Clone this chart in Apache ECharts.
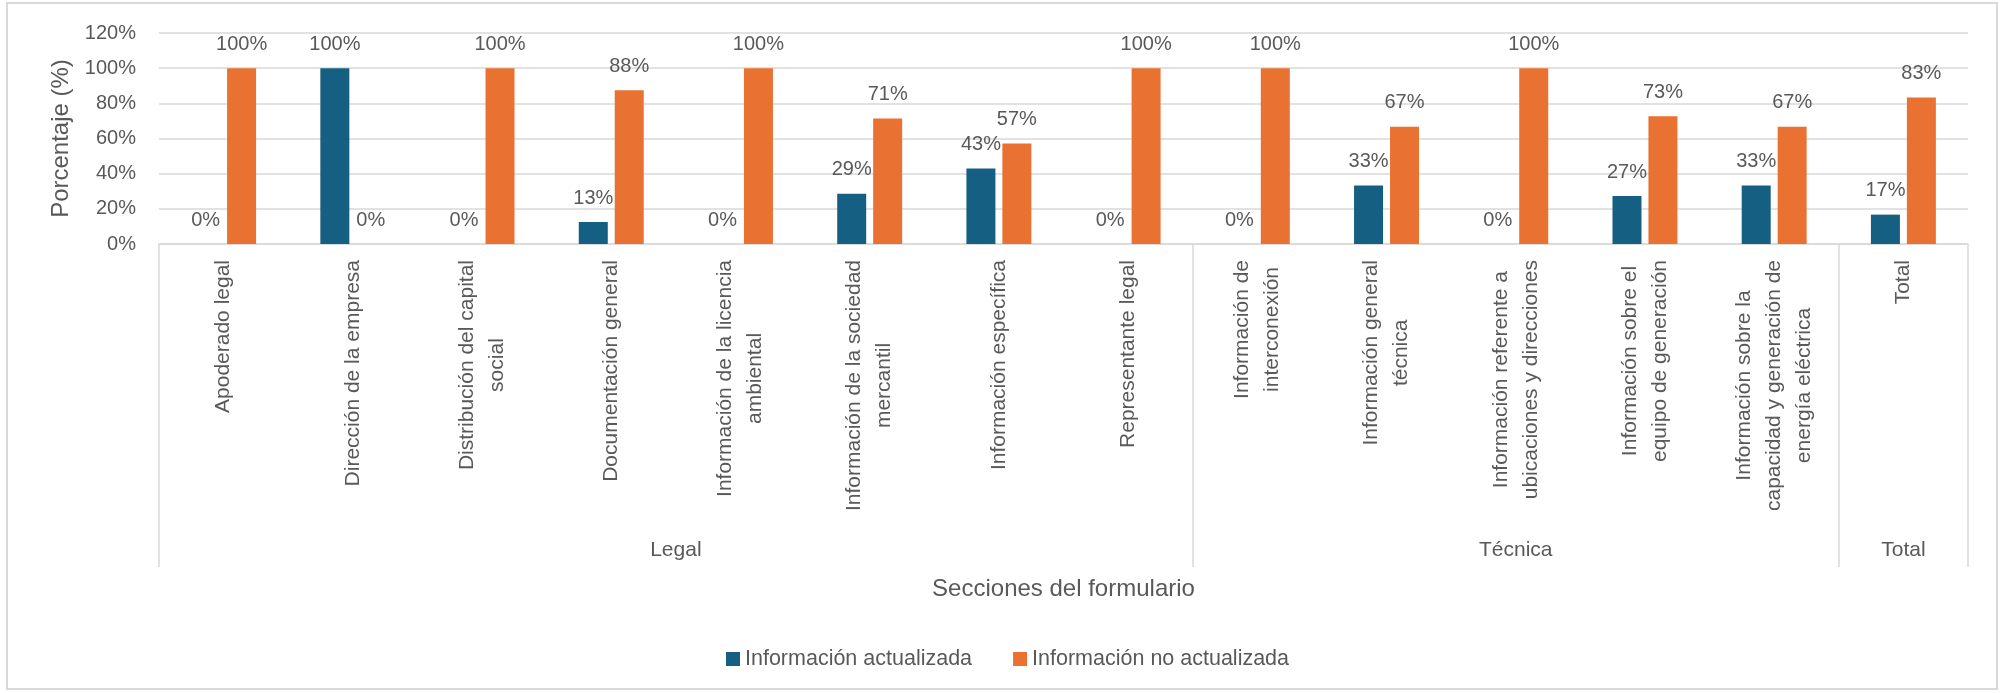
<!DOCTYPE html>
<html>
<head>
<meta charset="UTF-8">
<title>Secciones del formulario</title>
<script src="https://cdn.jsdelivr.net/npm/echarts@6/dist/echarts.min.js"></script>
<style>
	html, body { margin: 0; padding: 0; background: #fff; }
	#main { width: 2003px; height: 693px; }
</style>
</head>
<body>
<div id="main"></div>
<script>
// categorias (con saltos de linea como en el original)
var categorias = [
	'Apoderado legal',
	'Dirección de la empresa',
	'Distribución del capital\nsocial',
	'Documentación general',
	'Información de la licencia\nambiental',
	'Información de la sociedad\nmercantil',
	'Información específica',
	'Representante legal',
	'Información de\ninterconexión',
	'Información general\ntécnica',
	'Información referente a\nubicaciones y direcciones',
	'Información sobre el\nequipo de generación',
	'Información sobre la\ncapacidad y generación de\nenergía eléctrica',
	'Total'
];
var actualizada   = [0, 100, 0, 12.5, 0, 28.6, 42.9, 0, 0, 33.3, 0, 27.3, 33.3, 16.7];
var noActualizada = [100, 0, 100, 87.5, 100, 71.4, 57.1, 100, 100, 66.7, 100, 72.7, 66.7, 83.3];
// grupos de secciones y cuantas categorias abarca cada uno
var grupos = ['Legal', 'Técnica', 'Total'];
var gruposSpan = [8, 5, 1];
var yTicks = [0, 20, 40, 60, 80, 100, 120];

var gris = '#595959';
var linea = '#d9d9d9';
var fuente = "'Liberation Sans', Arial, sans-serif";

// eje de grupos en medias categorias: bordes y centros
var mitades = [], bordes = [0], centros = {};
var acc = 0;
for (var g = 0; g < grupos.length; g++) {
	centros[acc * 2 + gruposSpan[g]] = grupos[g];
	acc += gruposSpan[g];
	bordes.push(acc * 2);
}
for (var i = 0; i <= acc * 2; i++) mitades.push(centros[i] || '');

var myChart = echarts.init(document.getElementById('main'));
var option = {
	textStyle: { fontFamily: fuente },
	animation: false,
	grid: { left: 159, right: 35, top: 33, bottom: 449, outerBoundsMode: 'none' },
	graphic: [{
		type: 'rect', silent: true,
		shape: { x: 7, y: 3, width: 1990, height: 686 },
		style: { fill: 'none', stroke: linea, lineWidth: 2 }
	}],
	legend: {
		left: 726, top: 648, padding: 0,
		itemWidth: 14, itemHeight: 14, itemGap: 41,
		icon: 'rect',
		textStyle: { color: gris, fontSize: 21.5, fontFamily: fuente },
		data: ['Información actualizada', 'Información no actualizada']
	},
	xAxis: [{
		type: 'category',
		data: categorias,
		name: 'Secciones del formulario',
		nameLocation: 'middle',
		nameGap: 333,
		nameTextStyle: { color: gris, fontSize: 24 },
		axisLine: { lineStyle: { color: linea, width: 1.5 } },
		axisTick: { show: false },
		axisLabel: {
			interval: 0, rotate: 90, margin: 16,
			formatter: function (v) {
				return v.split('\n').map(function (s) { return '{c|' + s + '}'; }).join('\n');
			},
			rich: { c: { align: 'center', color: gris, fontSize: 21, lineHeight: 30, fontFamily: fuente } }
		}
	}, {
		type: 'category',
		position: 'bottom',
		boundaryGap: false,
		data: mitades,
		silent: true,
		axisLine: { show: false },
		axisTick: {
			show: true, length: 323,
			interval: function (idx) { return bordes.indexOf(idx) >= 0; },
			lineStyle: { color: linea, width: 1.5 }
		},
		axisLabel: {
			margin: 296,
			interval: function (idx, val) { return val !== ''; },
			color: gris, fontSize: 21
		}
	}],
	yAxis: {
		type: 'value',
		min: yTicks[0], max: yTicks[yTicks.length - 1], interval: yTicks[1] - yTicks[0],
		name: 'Porcentaje (%)',
		nameLocation: 'middle',
		nameRotate: 90,
		nameGap: 86,
		nameTextStyle: { color: gris, fontSize: 24 },
		axisLine: { show: false },
		axisTick: { show: false },
		axisLabel: { formatter: '{value}%', color: gris, fontSize: 20, margin: 23 },
		splitLine: { lineStyle: { color: linea, width: 1.5 } }
	},
	series: [{
		name: 'Información actualizada',
		type: 'bar',
		data: actualizada,
		barWidth: 29,
		barGap: '24%',
		itemStyle: { color: '#156082' },
		label: {
			show: true, position: 'top', distance: 14,
			color: gris, fontSize: 20,
			formatter: function (p) { return Math.round(p.value) + '%'; }
		}
	}, {
		name: 'Información no actualizada',
		type: 'bar',
		data: noActualizada,
		barWidth: 29,
		barGap: '24%',
		itemStyle: { color: '#E97132' },
		label: {
			show: true, position: 'top', distance: 14,
			color: gris, fontSize: 20,
			formatter: function (p) { return Math.round(p.value) + '%'; }
		}
	}]
};
myChart.setOption(option);
</script>
</body>
</html>
